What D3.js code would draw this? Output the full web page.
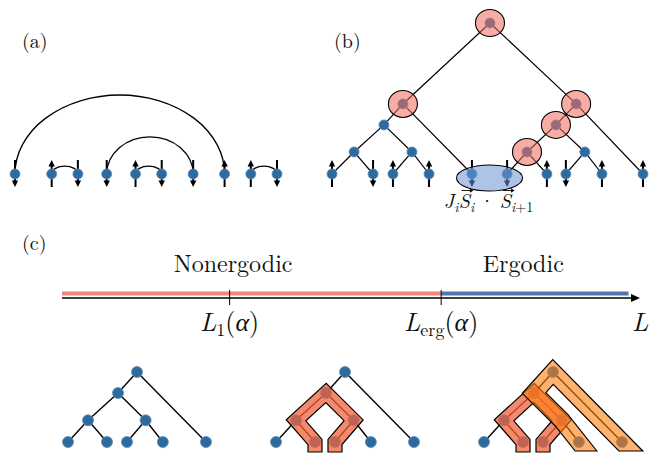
<!DOCTYPE html>
<html><head><meta charset="utf-8">
<script src="https://cdn.jsdelivr.net/npm/d3@7"></script>
<style>body{margin:0;background:#fff}svg{display:block}</style>
</head><body><svg id="c" width="650" height="454"></svg>
<script>
// ---------- data ----------
// panel (a): spin chain with singlet bonds
const aSitePos = [0, 1.4, 2.4, 3.5, 4.6, 5.6, 6.8, 8.0, 9.0, 10.0];
const aSpins   = [-1, 1, -1, -1, 1, -1, -1, 1, 1, -1];
const aBondFrom = [0, 1, 3, 4, 8];
const aBondTo   = [7, 2, 6, 5, 9];
const aBondHeight = [1.0, 0.1, 0.47, 0.1, 0.1];

// panel (b): RG tree
const bNodeX = [0, 1.32, 1.96, 3.12, 4.5, 5.63, 6.91, 7.52, 8.68, 10,
                0.71, 2.57, 1.67, 2.28, 6.27, 8.13, 7.20, 7.85, 5.08];
const bNodeH = [0,0,0,0,0,0,0,0,0,0,
                0.146, 0.146, 0.325, 0.464, 0.146, 0.146, 0.325, 0.464, 1.0];
const bParent = [10,10,11,11,13,14,14,15,15,17, 12,12,13,18, 16,16,17,18,-1];
const bSpins  = [1,-1,1,1,-1,-1,1,-1,1,1];
const bHighlighted = [18, 13, 17, 16, 14];
const bBondPair = [4, 5];
const bBondLabelPieces = ["J", "i", "S", "i", "·", "S", "i", "+1"];
const bBondLabelKind   = ["it", "sub", "vec", "sub", "op", "vec", "sub", "subup"];

// panel (c): phase axis
const cTickPos = [0.29, 0.656];
const cTickMain = ["L", "L"];
const cTickSub  = ["1", "erg"];
const cRegionNames = ["Nonergodic", "Ergodic"];
const cRegionStart = [0, 0.656];
const cRegionEnd   = [0.656, 0.98];
const cRegionColors = ["#ef6f64", "#2f5f9c"];
const cRegionLabelAt = [0.296, 0.798];

// panel (c): small trees
const cNodeX = [0, 1.13, 1.71, 2.75, 4, 0.58, 2.25, 1.45, 2.0];
const cNodeH = [0, 0, 0, 0, 0, 0.31, 0.31, 0.7, 1];
const cParent = [5, 5, 6, 6, 8, 7, 7, 8, -1];
const cTreeOffset = [0, 6.03, 12.06];
const cBandTree = [1, 2, 2];
const cBandPath = [[1,5,7,6,2], [1,5,7,6,2], [3,6,7,8,4]];
const cBandKind = ["salmon", "salmon", "orange"];

// ---------- drawing ----------
const FONT = '"Latin Modern Roman", "Liberation Serif", "Times New Roman", serif';
const svg = d3.select("#c");
const NODE = "#2d6a9e", NODE_EDGE = "#5a8dbb";
const txt = (g) => g.append("text").style("font-family", FONT).attr("fill", "#111");

function spin(g, x, y, s) {
  const top = y - 14, bot = y + 13;
  const tip = s > 0 ? top : bot, tail = s > 0 ? bot : top;
  const dir = s > 0 ? 1 : -1;
  g.append("line").attr("x1", x).attr("x2", x).attr("y1", tail).attr("y2", tip + dir * 5)
    .attr("stroke", "#000").attr("stroke-width", 2);
  g.append("path").attr("d", `M${x},${tip} L${x-3.2},${tip+dir*6.5} L${x+3.2},${tip+dir*6.5} Z`).attr("fill", "#000");
}
function node(g, x, y, r) {
  g.append("circle").attr("cx", x).attr("cy", y).attr("r", r || 5)
    .attr("fill", NODE).attr("stroke", NODE_EDGE).attr("stroke-width", 0.8);
}

// labels
txt(svg).attr("x", 22).attr("y", 48).attr("font-size", 20).text("(a)");
txt(svg).attr("x", 334).attr("y", 48).attr("font-size", 20).text("(b)");
txt(svg).attr("x", 22).attr("y", 250).attr("font-size", 20).text("(c)");

// ----- panel (a)
const gA = svg.append("g");
const xA = d3.scaleLinear().domain([0, 10]).range([15, 277]);
const hA = d3.scaleLinear().domain([0, 1]).range([0, 79]);
const yA = 174;
aBondFrom.forEach((f, i) => {
  const x1 = xA(aSitePos[f]), x2 = xA(aSitePos[aBondTo[i]]);
  const rx = (x2 - x1) / 2, ry = hA(aBondHeight[i]);
  gA.append("path").attr("d", `M${x1},${yA} A${rx},${ry} 0 0 1 ${x2},${yA}`)
    .attr("fill", "none").attr("stroke", "#000").attr("stroke-width", 1.3);
});
aSitePos.forEach((p, i) => spin(gA, xA(p), yA, aSpins[i]));
aSitePos.forEach((p) => node(gA, xA(p), yA));

// ----- panel (b)
const gB = svg.append("g");
const xB = d3.scaleLinear().domain([0, 10]).range([332, 643]);
const yB = d3.scaleLinear().domain([0, 1]).range([174, 23]);
bParent.forEach((p, i) => {
  if (p < 0) return;
  gB.append("line").attr("x1", xB(bNodeX[i])).attr("y1", yB(bNodeH[i]))
    .attr("x2", xB(bNodeX[p])).attr("y2", yB(bNodeH[p]))
    .attr("stroke", "#000").attr("stroke-width", 1.2);
});
bSpins.forEach((s, i) => spin(gB, xB(bNodeX[i]), yB(0), s));
bNodeX.forEach((x, i) => node(gB, xB(x), yB(bNodeH[i])));
bHighlighted.forEach(i => {
  gB.append("ellipse").attr("cx", xB(bNodeX[i])).attr("cy", yB(bNodeH[i]))
    .attr("rx", 14.5).attr("ry", 13.5)
    .attr("fill", "#f26a5a").attr("fill-opacity", 0.55)
    .attr("stroke", "#000").attr("stroke-width", 1.1);
});
{
  const xa = xB(bNodeX[bBondPair[0]]), xb = xB(bNodeX[bBondPair[1]]);
  const cx = (xa + xb) / 2;
  gB.append("ellipse").attr("cx", cx).attr("cy", yB(0) + 4)
    .attr("rx", 33).attr("ry", 13)
    .attr("fill", "#6a93d4").attr("fill-opacity", 0.55)
    .attr("stroke", "#000").attr("stroke-width", 1.1);
  const base = 208, FS = 20, SS = 14;
  const est = { "J": 0.52, "i": 0.36, "S": 0.62, "·": 0.28, "+1": 1.28 };
  const lab = gB.append("g");
  let x = 0;
  const vecs = [];
  bBondLabelPieces.forEach((p, k) => {
    const kind = bBondLabelKind[k];
    const sub = kind === "sub" || kind === "subup";
    const fs = sub ? SS : FS;
    if (kind === "op") x += 5;
    const t = txt(lab).attr("x", x).attr("y", base + (sub ? 4 : 0)).attr("font-size", fs).text(p);
    if (kind !== "op" && kind !== "subup") t.attr("font-style", "italic");
    let w = 0;
    try { w = t.node().getComputedTextLength(); } catch (e) { w = 0; }
    if (!w) w = (est[p] || 0.5) * fs;
    if (kind === "vec") vecs.push([x, w]);
    x += w;
    if (kind === "op") x += 5;
  });
  const x0 = cx - x / 2 - 1;
  lab.attr("transform", `translate(${x0},0)`);
  vecs.forEach(([vx, vw]) => {
    const y0 = base - 17.5, a = vx + 3, b = vx + vw + 3.5;
    lab.append("line").attr("x1", a).attr("x2", b - 2).attr("y1", y0).attr("y2", y0)
      .attr("stroke", "#000").attr("stroke-width", 0.9);
    lab.append("path").attr("d", `M${b},${y0} L${b-3.5},${y0-2.2} L${b-3.5},${y0+2.2} Z`).attr("fill", "#000");
  });
}

// ----- panel (c) axis
const gC = svg.append("g");
const xC = d3.scaleLinear().domain([0, 1]).range([62, 640]);
const axisY = 298;
cRegionNames.forEach((n, i) => {
  gC.append("rect").attr("x", xC(cRegionStart[i])).attr("width", xC(cRegionEnd[i]) - xC(cRegionStart[i]))
    .attr("y", axisY - 6.5).attr("height", 4).attr("fill", cRegionColors[i]).attr("opacity", 0.85);
  txt(gC).attr("x", xC(cRegionLabelAt[i])).attr("y", axisY - 26).attr("font-size", 24)
    .attr("text-anchor", "middle").text(n);
});
gC.append("line").attr("x1", xC(0)).attr("x2", xC(1) - 6).attr("y1", axisY).attr("y2", axisY)
  .attr("stroke", "#000").attr("stroke-width", 1.6);
gC.append("path").attr("d", `M${xC(1)},${axisY} L${xC(1)-9},${axisY-4} L${xC(1)-9},${axisY+4} Z`).attr("fill", "#000");
cTickPos.forEach((p, i) => {
  gC.append("line").attr("x1", xC(p)).attr("x2", xC(p)).attr("y1", axisY - 8).attr("y2", axisY + 7)
    .attr("stroke", "#000").attr("stroke-width", 1);
  const t = txt(gC).attr("x", xC(p)).attr("y", axisY + 33).attr("font-size", 26).attr("text-anchor", "middle");
  t.append("tspan").attr("font-style", "italic").text(cTickMain[i]);
  t.append("tspan").attr("font-size", 18).attr("dy", 5).text(cTickSub[i]);
  t.append("tspan").attr("dy", -5).text("(");
  t.append("tspan").attr("font-style", "italic").text("α");
  t.append("tspan").text(")");
});
txt(gC).attr("x", 632).attr("y", axisY + 33).attr("font-size", 26).attr("font-style", "italic").text("L");

// ----- panel (c) trees
const xT = d3.scaleLinear().domain([0, 16.06]).range([68, 622]);
const yT = d3.scaleLinear().domain([0, 1]).range([442, 372]);

function bandPoly(pts, w) {
  const n = pts.length, segs = [];
  for (let i = 0; i < n - 1; i++) {
    const dx = pts[i+1][0] - pts[i][0], dy = pts[i+1][1] - pts[i][1], L = Math.hypot(dx, dy);
    segs.push({ d: [dx / L, dy / L], nr: [-dy / L, dx / L] });
  }
  const inter = (p, d, q, e) => {
    const den = d[0] * e[1] - d[1] * e[0];
    const t = ((q[0] - p[0]) * e[1] - (q[1] - p[1]) * e[0]) / den;
    return [p[0] + t * d[0], p[1] + t * d[1]];
  };
  const side = s => {
    const out = [];
    const s0 = segs[0];
    out.push(inter([pts[0][0] + s*w*s0.nr[0], pts[0][1] + s*w*s0.nr[1]], s0.d, pts[0], [1, 0]));
    for (let j = 1; j < n - 1; j++) {
      const a = segs[j-1], b = segs[j];
      out.push(inter([pts[j][0] + s*w*a.nr[0], pts[j][1] + s*w*a.nr[1]], a.d,
                     [pts[j][0] + s*w*b.nr[0], pts[j][1] + s*w*b.nr[1]], b.d));
    }
    const sl = segs[n-2];
    out.push(inter([pts[n-1][0] + s*w*sl.nr[0], pts[n-1][1] + s*w*sl.nr[1]], sl.d, pts[n-1], [1, 0]));
    return out;
  };
  return side(1).concat(side(-1).reverse());
}

cTreeOffset.forEach((off, ti) => {
  const g = svg.append("g");
  const P = i => [xT(cNodeX[i] + off), yT(cNodeH[i])];
  cParent.forEach((p, i) => {
    if (p < 0) return;
    const a = P(i), b = P(p);
    g.append("line").attr("x1", a[0]).attr("y1", a[1]).attr("x2", b[0]).attr("y2", b[1])
      .attr("stroke", "#000").attr("stroke-width", 1.4);
  });
  cNodeX.forEach((x, i) => { const q = P(i); node(g, q[0], q[1], 5.5); });
  cBandTree.forEach((bt, bi) => {
    if (bt !== ti) return;
    const path = cBandPath[bi];
    let pts = path.map(P);
    let w, fill, op;
    if (cBandKind[bi] === "salmon") {
      const f = pts[0], l = pts[pts.length - 1];
      pts = [[f[0], f[1] + 10]].concat(pts, [[l[0], l[1] + 10]]);
      w = 7; fill = "#f0623b"; op = 0.75;
    } else {
      const ext = (leaf, par) => { const t = 9 / (leaf[1] - par[1]); return [leaf[0] + (leaf[0]-par[0]) * t, leaf[1] + 9]; };
      pts[0] = ext(pts[0], pts[1]);
      pts[pts.length - 1] = ext(pts[pts.length - 1], pts[pts.length - 2]);
      w = 8.5; fill = "#ff7f0e"; op = 0.6;
    }
    const poly = bandPoly(pts, w);
    g.append("path").attr("d", "M" + poly.map(p => p.join(",")).join("L") + "Z")
      .attr("fill", fill).attr("fill-opacity", op)
      .attr("stroke", "#000").attr("stroke-width", 1.2).attr("stroke-linejoin", "miter");
  });
});
</script>
</body></html>
